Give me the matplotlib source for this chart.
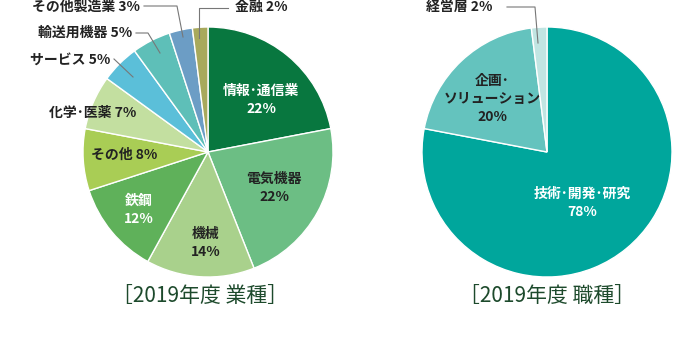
import matplotlib.pyplot as plt

plt.rcParams['font.family'] = ['Noto Sans CJK JP', 'DejaVu Sans']

# ===== data =====
industry_labels = ['情報･通信業', '電気機器', '機械', '鉄鋼', 'その他', '化学･医薬',
                   'サービス', '輸送用機器', 'その他製造業', '金融']
industry_values = [22, 22, 14, 12, 8, 7, 5, 5, 3, 2]
industry_colors = ['#08773f', '#6cbe84', '#a9d18c', '#5fb15a', '#a9cd55', '#c3dfa0',
                   '#5bbfd9', '#5ebfb8', '#6c9dc5', '#a8a95c']

job_labels = ['技術･開発･研究', '企画･\nソリューション', '経営層']
job_values = [78, 20, 2]
job_colors = ['#00a69c', '#64c3be', '#c1e5e2']

W, H = 695, 341
fig = plt.figure(figsize=(W / 100, H / 100), dpi=100)
ax = fig.add_axes([0, 0, 1, 1])

R = 125
c1 = (208, H - 152)
c2 = (547, H - 152)

wp = dict(edgecolor='white', linewidth=1)
ax.pie(industry_values, colors=industry_colors, startangle=90, counterclock=False,
       center=c1, radius=R, wedgeprops=wp)
ax.pie(job_values, colors=job_colors, startangle=90, counterclock=False,
       center=c2, radius=R, wedgeprops=wp)
ax.set_xlim(0, W)
ax.set_ylim(0, H)
ax.set_aspect('equal')
ax.axis('off')

fs = 10


def lab(x, y, s, color='#222222', ha='center'):
    # x, y in pixels from top-left
    ax.text(x, H - y, s, fontsize=fs, fontweight='bold', color=color,
            ha=ha, va='center', linespacing=1.4)


def pct(i, names, vals):
    return f'{names[i]}\n{vals[i]}%'


# left pie - labels inside
lab(261, 100, pct(0, industry_labels, industry_values), 'white')
lab(274, 188, pct(1, industry_labels, industry_values))
lab(206, 243, pct(2, industry_labels, industry_values))
lab(139, 210, pct(3, industry_labels, industry_values), 'white')
lab(124, 155, f'{industry_labels[4]} {industry_values[4]}%')
lab(93, 113, f'{industry_labels[5]} {industry_values[5]}%')

# left pie - labels with leader lines
lc = '#777777'
lab(110, 60, f'{industry_labels[6]} {industry_values[6]}%', ha='right')
ax.plot([114, 133], [H - 59, H - 77], color=lc, lw=0.8)
lab(132, 33, f'{industry_labels[7]} {industry_values[7]}%', ha='right')
ax.plot([136, 148, 160], [H - 33, H - 33, H - 53], color=lc, lw=0.8)
lab(140, 7, f'{industry_labels[8]} {industry_values[8]}%', ha='right')
ax.plot([144, 177, 183], [H - 6, H - 6, H - 37], color=lc, lw=0.8)
lab(235, 7, f'{industry_labels[9]} {industry_values[9]}%', ha='left')
ax.plot([199, 199, 228], [H - 38, H - 8, H - 8], color=lc, lw=0.8)

# right pie
lab(582, 203, pct(0, job_labels, job_values), 'white')
lab(492, 99, pct(1, job_labels, job_values))
lab(493, 7, f'{job_labels[2]} {job_values[2]}%', ha='right')
ax.plot([507, 535, 538], [H - 7, H - 7, H - 43], color=lc, lw=0.8)

# titles
tc = '#1d4a2c'
ax.text(c1[0] - 8, H - 296, '［2019年度 業種］', fontsize=15, color=tc, ha='center', va='center')
ax.text(c2[0], H - 296, '［2019年度 職種］', fontsize=15, color=tc, ha='center', va='center')

plt.savefig('out.png', dpi=100)
